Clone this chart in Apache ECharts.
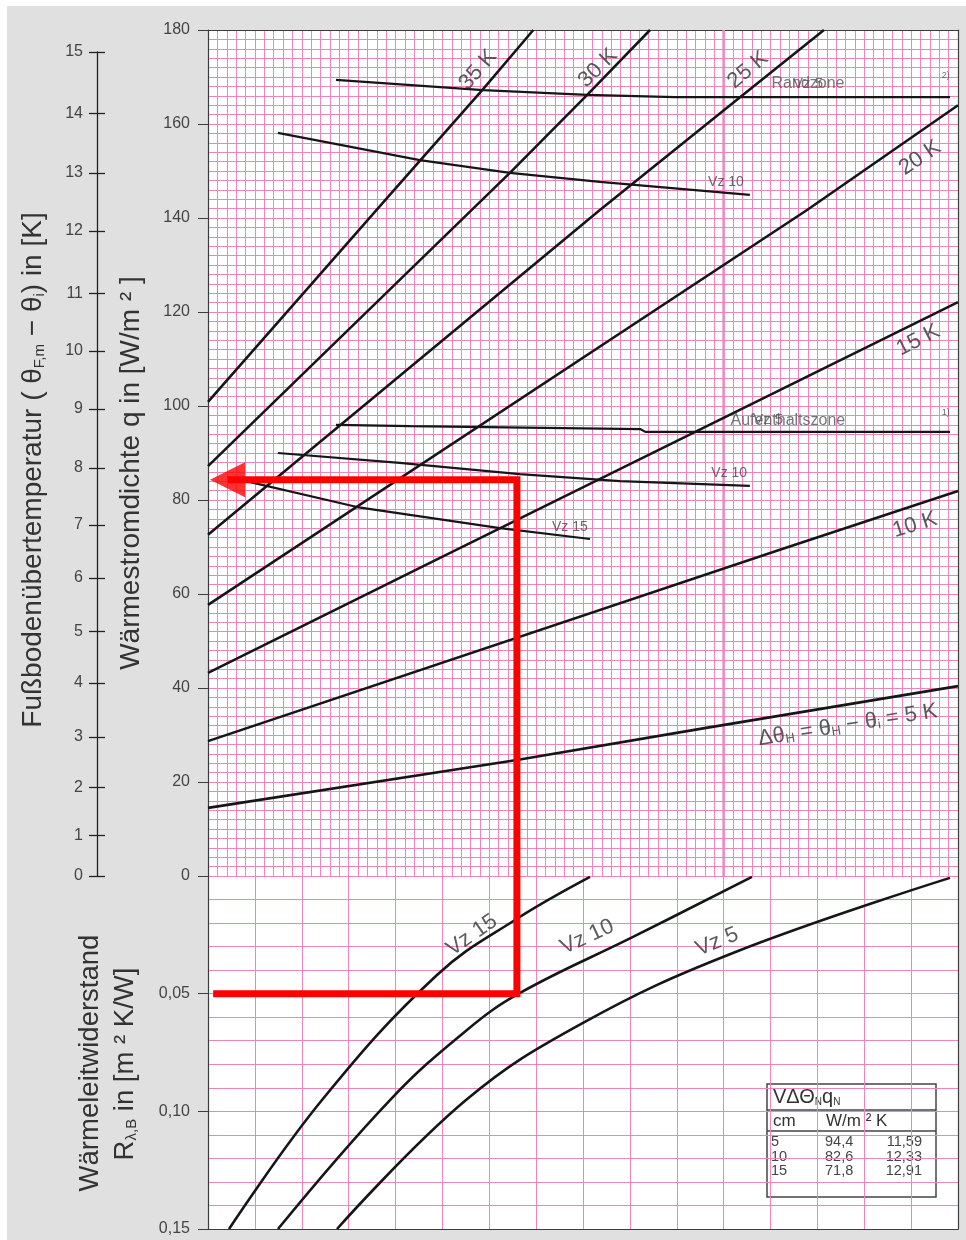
<!DOCTYPE html>
<html><head><meta charset="utf-8">
<script src="https://cdn.jsdelivr.net/npm/echarts@6/dist/echarts.min.js"></script>
<style>
html,body{margin:0;padding:0;background:#fff;}
#bg{position:absolute;left:7px;top:6px;width:959px;height:1234px;background:#e0e0e0;}
#chart{position:absolute;left:0;top:0;width:966px;height:1240px;}
</style></head>
<body><div id="bg"></div><div id="chart"></div>
<script>
// ---------- data ----------
// left nonlinear axis: floor over-temperature ticks and their heat-flux positions
const kTickLabels = ['0','1','2','3','4','5','6','7','8','9','10','11','12','13','14','15'];
const kTickQ = [0, 8.7, 18.9, 29.6, 41.1, 52.1, 63.4, 74.7, 86.8, 99.4, 111.7, 124.0, 137.2, 149.6, 162.3, 175.3];

// heating-medium difference lines (x: hidden abscissa in grid divisions, y: q in W/m²)
const line35K = [[0,100.9],[3.78,143.8],[5.85,167.2],[6.94,180]];
const line30K = [[0,87.2],[6.44,149.6],[8.09,166.2],[9.43,180]];
const line25K = [[0,72.6],[8.36,141.7],[11.35,165.7],[13.14,180]];
const line20K = [[0,57.7],[12.78,141.7],[16,164.0]];
const line15K = [[0,43.2],[4.95,67.7],[16,122.1]];
const line10K = [[0,28.7],[12.2,69.4],[16,81.9]];
const line5K  = [[0,14.5],[6.59,24.7],[10.5,31.3],[16,40.4]];

// limit curves
const randVz5  = [[2.73,169.4],[5.87,167.2],[8.09,166.2],[9.96,165.7],[15.83,165.7]];
const randVz10 = [[1.49,158.1],[4.52,152.3],[6.44,149.6],[8.36,147.7],[11.56,144.9]];
const aufVz5   = [[2.73,96.0],[4.31,95.7],[9.22,95.1],[9.33,94.5],[15.83,94.5]];
const aufVz10  = [[1.49,90.0],[4.09,87.9],[6.65,85.5],[8.79,84.0],[11.56,83.0]];
const aufVz15  = [[0.51,84.7],[3.18,78.5],[6.23,74.0],[8.15,71.7]];

// thermal resistance curves (y: R in m²K/W)
const rVz15 = [[0.448,0.150],[2.432,0.0952],[4.885,0.0421],[6.549,0.0187],[8.149,0.0004]];
const rVz10 = [[1.493,0.150],[3.883,0.0952],[5.525,0.0654],[6.656,0.0497],[9.067,0.0259],[11.605,0.0004]];
const rVz5  = [[2.752,0.150],[5.504,0.0952],[8.0,0.0624],[11.2,0.0327],[15.829,0.0008]];

// example reading (red)
const exX = 6.59, exR = 0.05, exQ = 84.3;

// table
const tableVz = ['5','10','15'];
const tableQ  = ['94,4','82,6','71,8'];
const tableK  = ['11,59','12,33','12,91'];

// ---------- styling ----------
const FONT = '"Liberation Sans", Arial, Helvetica, sans-serif';
const PINK = '#ee86bd';
const INK = '#161616';
const AX = '#3c3c3c';

function blk(data, width, gi){
  return {type:'line', xAxisIndex:gi||0, yAxisIndex:gi?2:0, data:data, symbol:'none', showSymbol:false,
    lineStyle:{color:INK, width:width}, z:3, silent:true, animation:false};
}
function smoothBlk(data){
  const s = blk(data, 2.6, 1); s.smooth = 0.4; return s;
}
function labSeries(items, xi, yi){
  return {type:'scatter', xAxisIndex:xi, yAxisIndex:yi, symbolSize:0.1, itemStyle:{color:'rgba(0,0,0,0)'},
    silent:true, animation:false, z:20, clip:false,
    data: items.map(it => ({value:[it.x, it.y], label:{show:true, position:'inside', formatter:it.t, rotate:it.r||0,
      fontSize:it.s, color:it.c||'#333', fontFamily:FONT,
      rich:{s:{fontSize:Math.round(it.s*0.6), color:it.c||'#333', fontFamily:FONT, verticalAlign:'bottom', padding:[6,0,0,0]}}}}))
  };
}

const topLabels = [
  {t:'35 K', x:5.76, y:171.5, r:49, s:22},
  {t:'30 K', x:8.32, y:171.9, r:45, s:22},
  {t:'25 K', x:11.52, y:171.5, r:40, s:22},
  {t:'20 K', x:15.19, y:152.8, r:34, s:22},
  {t:'15 K', x:15.15, y:114.0, r:27, s:22},
  {t:'10 K', x:15.08, y:74.7, r:17, s:22},
  {t:'Δθ{s|H} = θ{s|H} − θ{s|i} = 5 K', x:13.65, y:32.1, r:9, s:22},
  {t:'Vz 10', x:11.05, y:147.7, s:14, c:'#444'},
  {t:'Vz 10', x:11.12, y:85.7, s:14, c:'#444'},
  {t:'Vz 15', x:7.72, y:74.3, s:14, c:'#444'},
  {t:'Randzone', x:12.8, y:168.5, s:16, c:'#555'},
  {t:'Vz 5', x:12.8, y:168.5, s:15, c:'#555'},
  {t:'Aufenthaltszone', x:12.37, y:97.0, s:16, c:'#555'},
  {t:'Vz 5', x:11.95, y:97.0, s:15, c:'#555'},
  {t:'2)', x:15.74, y:170.4, s:9, c:'#444'},
  {t:'1)', x:15.74, y:98.7, s:9, c:'#444'}
];
const bottomLabels = [
  {t:'Vz 15', x:5.63, y:0.0251, r:35, s:22},
  {t:'Vz 10', x:8.09, y:0.0259, r:25, s:22},
  {t:'Vz 5', x:10.86, y:0.0280, r:22, s:22}
];

const gridLine = {show:true, lineStyle:{color:PINK, width:1}};
const tickLabelStyle = {fontSize:16, color:'#444', fontFamily:FONT};

const chart = echarts.init(document.getElementById('chart'), null, {renderer:'canvas'});
const option = {
  animation:false,
  backgroundColor:'transparent',
  grid:[
    {left:208, right:8, top:30, height:846, show:true, backgroundColor:'#fff', borderWidth:0},
    {left:208, right:8, top:876, height:353, show:true, backgroundColor:'#fff', borderWidth:0},
    {left:97, width:1, top:52, height:824, show:false}
  ],
  xAxis:[
    {gridIndex:0, type:'value', min:0, max:16, interval:1, position:'top',
      axisLine:{show:true, onZero:false, lineStyle:{color:AX, width:1.2}}, axisTick:{show:false}, axisLabel:{show:false},
      splitLine:gridLine, minorTick:{show:false, splitNumber:5}, minorSplitLine:gridLine},
    {gridIndex:1, type:'value', min:0, max:16, interval:1, position:'bottom',
      axisLine:{show:true, onZero:false, lineStyle:{color:AX, width:1.2}}, axisTick:{show:false}, axisLabel:{show:false},
      splitLine:gridLine},
    {gridIndex:2, type:'value', min:0, max:1, show:false}
  ],
  yAxis:[
    {gridIndex:0, type:'value', min:0, max:180, interval:20, position:'left',
      axisLine:{show:true, onZero:false, lineStyle:{color:AX, width:1.2}},
      axisTick:{show:true, length:10, lineStyle:{color:AX}},
      axisLabel:Object.assign({margin:18}, tickLabelStyle),
      splitLine:gridLine, minorTick:{show:false, splitNumber:10}, minorSplitLine:gridLine},
    {gridIndex:0, type:'value', min:0, max:180, position:'right',
      axisLine:{show:true, onZero:false, lineStyle:{color:AX, width:1.2}}, axisTick:{show:false}, axisLabel:{show:false}, splitLine:{show:false}},
    {gridIndex:1, type:'value', min:0, max:0.15, interval:0.05, inverse:true, position:'left',
      axisLine:{show:true, onZero:false, lineStyle:{color:AX, width:1.2}},
      axisTick:{show:true, length:10, lineStyle:{color:AX}},
      axisLabel:Object.assign({margin:18, formatter:v => v === 0 ? '' : v.toFixed(2).replace('.', ',')}, tickLabelStyle),
      splitLine:gridLine, minorTick:{show:false, splitNumber:5}, minorSplitLine:gridLine},
    {gridIndex:1, type:'value', min:0, max:0.15, inverse:true, position:'right',
      axisLine:{show:true, onZero:false, lineStyle:{color:AX, width:1.2}}, axisTick:{show:false}, axisLabel:{show:false}, splitLine:{show:false}},
    {gridIndex:2, type:'value', min:0, max:175.3, position:'left',
      axisLine:{show:true, onZero:false, lineStyle:{color:'#222', width:1.3}},
      axisTick:{show:true, length:8, customValues:kTickQ, lineStyle:{color:'#222', width:1.3}},
      axisLabel:Object.assign({margin:14, customValues:kTickQ, formatter:v => {
        const i = kTickQ.findIndex(q => Math.abs(q - v) < 1e-6); return i >= 0 ? kTickLabels[i] : ''; }}, tickLabelStyle),
      splitLine:{show:false}},
    {gridIndex:2, type:'value', min:0, max:175.3, position:'left',
      axisLine:{show:false, onZero:false},
      axisTick:{show:true, inside:true, length:8, customValues:kTickQ, lineStyle:{color:'#222', width:1.3}},
      axisLabel:{show:false}, splitLine:{show:false}}
  ],
  graphic:[
    {type:'text', x:33, y:470, rotation:Math.PI/2, z:10, style:{
      text:'Fußbodenübertemperatur ( θ{s|F,m} − θ{s|i}) in [K]', fill:'#333', font:'28px ' + FONT,
      align:'center', verticalAlign:'middle',
      rich:{s:{fontSize:15, fontFamily:FONT, fill:'#333', verticalAlign:'bottom', padding:[8,0,0,0]}}}},
    {type:'text', x:131, y:473, rotation:Math.PI/2, z:10, style:{
      text:'Wärmestromdichte q in [W/m ² ]', fill:'#333', font:'28px ' + FONT, align:'center', verticalAlign:'middle'}},
    {type:'text', x:90, y:1063, rotation:Math.PI/2, z:10, style:{
      text:'Wärmeleitwiderstand', fill:'#333', font:'27.5px ' + FONT, align:'center', verticalAlign:'middle'}},
    {type:'text', x:125, y:1064, rotation:Math.PI/2, z:10, style:{
      text:'R{s|λ,B} in [m ² K/W]', fill:'#333', font:'27.5px ' + FONT, align:'center', verticalAlign:'middle',
      rich:{s:{fontSize:15, fontFamily:FONT, fill:'#333', verticalAlign:'bottom', padding:[8,0,0,0]}}}},
    {type:'group', x:767, y:1084, z:30, children:[
      {type:'rect', shape:{x:0, y:0, width:169, height:113}, style:{fill:'#fff', stroke:'#444', lineWidth:1.5}},
      {type:'line', shape:{x1:0, y1:26, x2:169, y2:26}, style:{stroke:'#444', lineWidth:1.5}},
      {type:'line', shape:{x1:0, y1:47, x2:169, y2:47}, style:{stroke:'#444', lineWidth:1.5}},
      {type:'text', x:6, y:13, style:{text:'VΔΘ{s|N}q{s|N}', fill:'#333', font:'20px ' + FONT, verticalAlign:'middle',
        rich:{s:{fontSize:10, fontFamily:FONT, fill:'#333', verticalAlign:'bottom', padding:[6,0,0,0]}}}},
      {type:'text', x:6, y:37, style:{text:'cm', fill:'#333', font:'17px ' + FONT, verticalAlign:'middle'}},
      {type:'text', x:59, y:37, style:{text:'W/m ² K', fill:'#333', font:'17px ' + FONT, verticalAlign:'middle'}}
    ].concat(tableVz.map((v, i) => ({type:'text', x:4, y:58 + i*14.5, style:{text:v, fill:'#444', font:'14.5px ' + FONT, verticalAlign:'middle'}})))
     .concat(tableQ.map((v, i) => ({type:'text', x:58, y:58 + i*14.5, style:{text:v, fill:'#444', font:'14.5px ' + FONT, verticalAlign:'middle'}})))
     .concat(tableK.map((v, i) => ({type:'text', x:155, y:58 + i*14.5, style:{text:v, fill:'#444', font:'14.5px ' + FONT, align:'right', verticalAlign:'middle'}})))
    }
  ],
  series:[
    {type:'line', xAxisIndex:0, yAxisIndex:0, data:[[11,0],[11,180]], symbol:'none', lineStyle:{color:PINK, width:2.5}, z:1, silent:true},
    blk(line35K, 2.6), blk(line30K, 2.6), blk(line25K, 2.6), blk(line20K, 2.6),
    blk(line15K, 2.6), blk(line10K, 2.6), blk(line5K, 2.6),
    blk(randVz5, 2.2), blk(randVz10, 2.2), blk(aufVz5, 2.2), blk(aufVz10, 2.2), blk(aufVz15, 2.2),
    smoothBlk(rVz15), smoothBlk(rVz10), smoothBlk(rVz5),
    {type:'line', xAxisIndex:0, yAxisIndex:0, data:[[exX,0],[exX,exQ],[0.42,exQ]], symbol:'none',
      lineStyle:{color:'#ff0000', width:7, join:'miter'}, z:10, silent:true},
    {type:'scatter', xAxisIndex:0, yAxisIndex:0, data:[[0.416, exQ]], symbol:'triangle', symbolSize:[35,35], symbolRotate:90,
      itemStyle:{color:'#ff0000'}, z:11, silent:true, clip:false},
    {type:'line', xAxisIndex:1, yAxisIndex:2, data:[[0.11,exR],[exX,exR],[exX,0]], symbol:'none',
      lineStyle:{color:'#ff0000', width:7, join:'miter'}, z:10, silent:true},
    labSeries(topLabels, 0, 0),
    labSeries(bottomLabels, 1, 2)
  ]
};
chart.setOption(option);
</script></body></html>
